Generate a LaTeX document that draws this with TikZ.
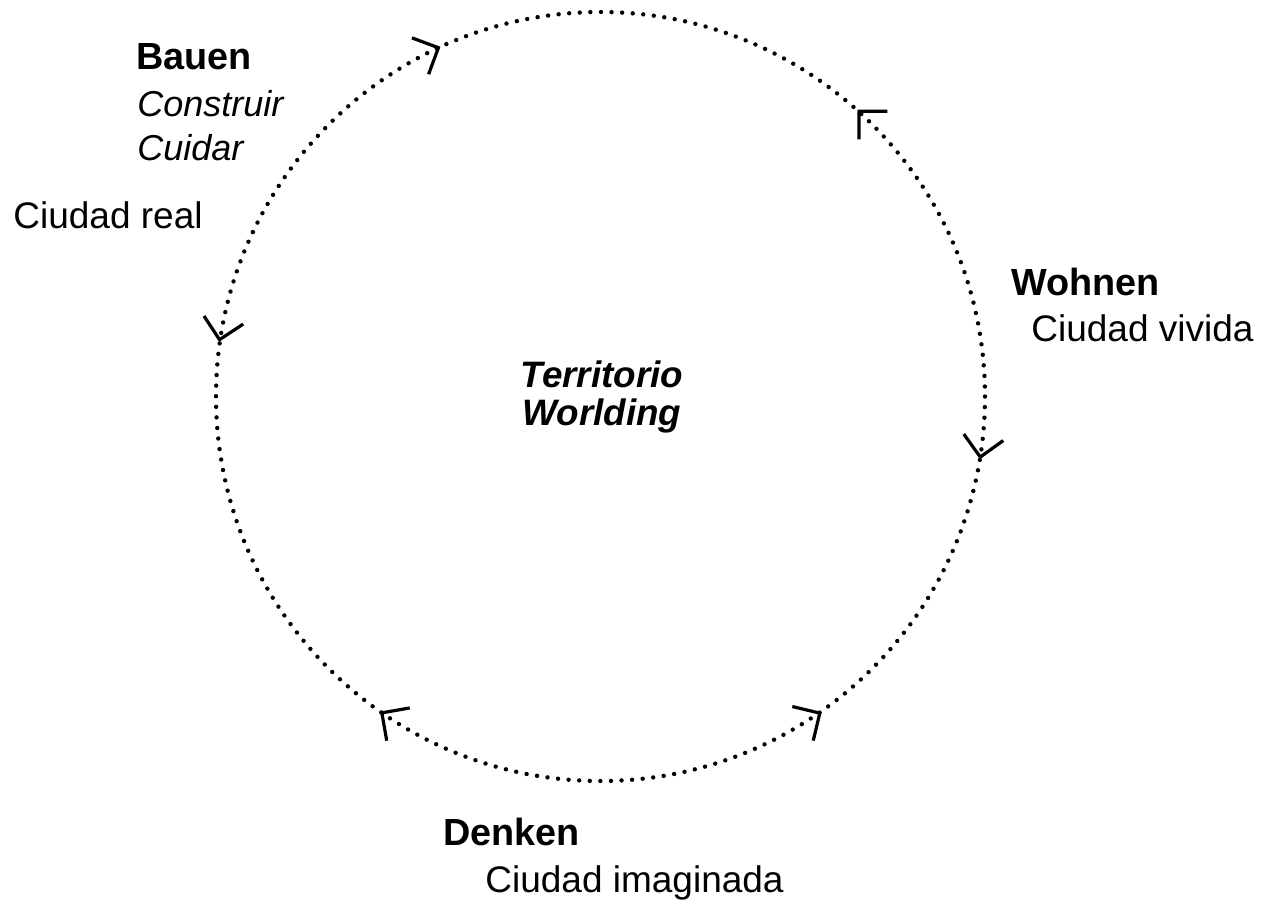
\documentclass[tikz,border=0pt]{standalone}
\usepackage{fontspec}
\setmainfont{Liberation Sans}
\usetikzlibrary{arrows.meta,decorations.markings}
\begin{document}
\begin{tikzpicture}[x=0.5pt,y=-0.5pt,
  >={Straight Barb[length=10pt,width=20pt,line width=1.6pt]},
  lbl/.style={anchor=base west, inner sep=0pt, font=\fontsize{18.5}{22}\selectfont},
  headlbl/.style={anchor=base west, inner sep=0pt, font=\fontsize{18.9}{22}\selectfont\bfseries},
  sublbl/.style={anchor=base west, inner sep=0pt, font=\fontsize{18}{22}\selectfont\itshape},
  centrelbl/.style={anchor=base, inner sep=0pt, font=\fontsize{18.4}{22}\selectfont\bfseries\itshape},
  ringline/.style={line width=2.2pt, dash pattern=on 0pt off 5.3pt, line cap=round}
]
\useasboundingbox (0,0) rectangle (1263,912);
\coordinate (c) at (600.5,396.5);
\draw[ringline, postaction={solid, decorate},
  decoration={markings,
    mark=at position 0.0261 with {\arrow{>}},
    mark=at position 0.1625 with {\arrow{<}},
    mark=at position 0.3472 with {\arrow{>}},
    mark=at position 0.5325 with {\arrow{<}},
    mark=at position 0.6817 with {\arrow{>}},
    mark=at position 0.8761 with {\arrow{<}}}]
  (c) circle[radius=384.5];

\node[headlbl] (bauen) at (136,69) {Bauen};
\node[sublbl] (construir) at (137,116) {Construir};
\node[sublbl] (cuidar) at (137,160) {Cuidar};
\node[lbl] (real) at (13,228) {Ciudad real};

\node[headlbl] (wohnen) at (1011,295) {Wohnen};
\node[lbl] (vivida) at (1031,341) {Ciudad vivida};

\node[headlbl] (denken) at (443,845) {Denken};
\node[lbl] (imaginada) at (485,892) {Ciudad imaginada};

\node[centrelbl] (territorio) at (602,387) {Territorio};
\node[centrelbl] (worlding) at (602,425) {Worlding};
\end{tikzpicture}
\end{document}
